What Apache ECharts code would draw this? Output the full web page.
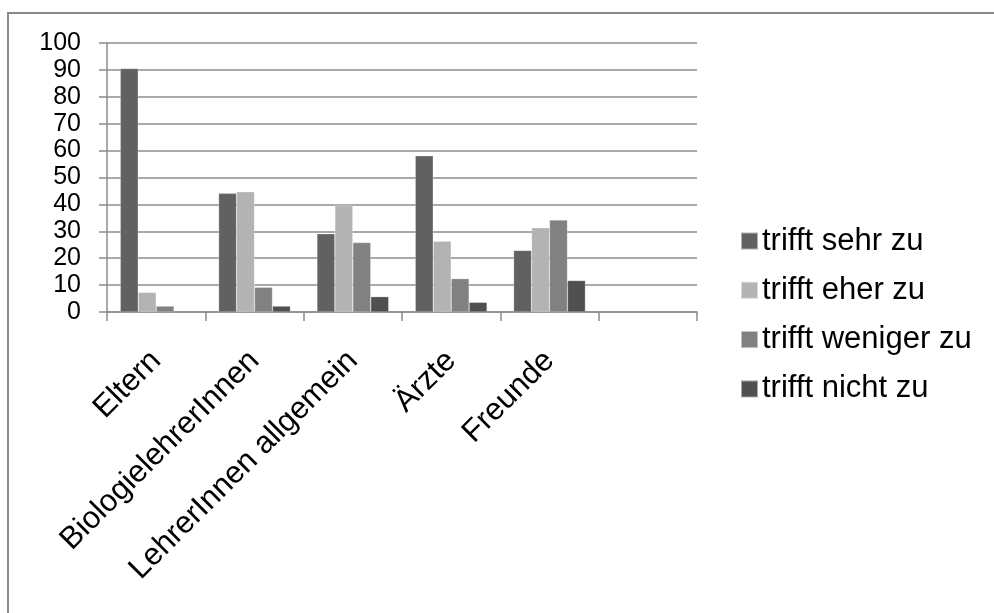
<!DOCTYPE html>
<html>
<head>
<meta charset="utf-8">
<script src="https://cdn.jsdelivr.net/npm/echarts@6/dist/echarts.min.js"></script>
<style>
  html, body { margin: 0; padding: 0; background: #ffffff; }
  #chart { width: 994px; height: 613px; }
</style>
</head>
<body>
<div id="chart"></div>
<script>
// Categories (the last slot is intentionally empty)
const categories = ['Eltern', 'BiologielehrerInnen', 'LehrerInnen allgemein', 'Ärzte', 'Freunde', ''];

// Series values in percent
const sehr    = [90.5, 44.1, 29.1, 58.1, 22.9, null];
const eher    = [7.3, 44.7, 39.6, 26.3, 31.3, null];
const weniger = [2.2, 9.2, 25.8, 12.4, 34.2, null];
const nicht   = [null, 2.2, 5.7, 3.6, 11.7, null];

const seriesNames = ['trifft sehr zu', 'trifft eher zu', 'trifft weniger zu', 'trifft nicht zu'];
const seriesColors = ['#616161', '#b3b3b3', '#818181', '#505050'];
const seriesData = [sehr, eher, weniger, nicht];

const FONT = '"Liberation Sans", Arial, sans-serif';
const GRID_COLOR = '#8c8c8c';

const chart = echarts.init(document.getElementById('chart'), null, { renderer: 'canvas' });

chart.setOption({
  backgroundColor: '#ffffff',
  animation: false,
  textStyle: { fontFamily: FONT },
  graphic: [{
    type: 'rect',
    shape: { x: 8, y: 13, width: 1000, height: 700 },
    style: { fill: 'none', stroke: '#8a8a8a', lineWidth: 2 },
    silent: true,
    z: -1
  }],
  grid: { left: 107, right: 297, top: 43, bottom: 301, containLabel: false },
  legend: {
    orient: 'vertical',
    left: 735,
    top: 220,
    padding: 5,
    itemWidth: 17,
    itemHeight: 17,
    itemGap: 17.3,
    icon: 'rect',
    textStyle: { fontSize: 31, color: '#000000', fontFamily: FONT, lineHeight: 32, padding: [0, 0, 0, -1] },
    data: seriesNames
  },
  xAxis: {
    type: 'category',
    data: categories,
    axisLine: { show: true, lineStyle: { color: GRID_COLOR, width: 1.5 } },
    axisTick: { show: true, length: 9, lineStyle: { color: GRID_COLOR, width: 1.5 } },
    axisLabel: {
      rotate: 45,
      interval: 0,
      margin: 44,
      fontSize: 31,
      color: '#000000',
      fontFamily: FONT
    }
  },
  yAxis: {
    type: 'value',
    min: 0,
    max: 100,
    interval: 10,
    axisLine: { show: true, lineStyle: { color: GRID_COLOR, width: 1.5 } },
    axisTick: { show: true, length: 8, lineStyle: { color: GRID_COLOR, width: 1.5 } },
    axisLabel: { fontSize: 25, color: '#000000', margin: 26, fontFamily: FONT },
    splitLine: { show: true, lineStyle: { color: GRID_COLOR, width: 1.5 } }
  },
  series: seriesNames.map((name, i) => ({
    name: name,
    type: 'bar',
    data: seriesData[i],
    barGap: '0%',
    barCategoryGap: '27%',
    itemStyle: { color: seriesColors[i], borderColor: 'rgba(255,255,255,0.5)', borderWidth: 0.5 }
  }))
});
</script>
</body>
</html>
